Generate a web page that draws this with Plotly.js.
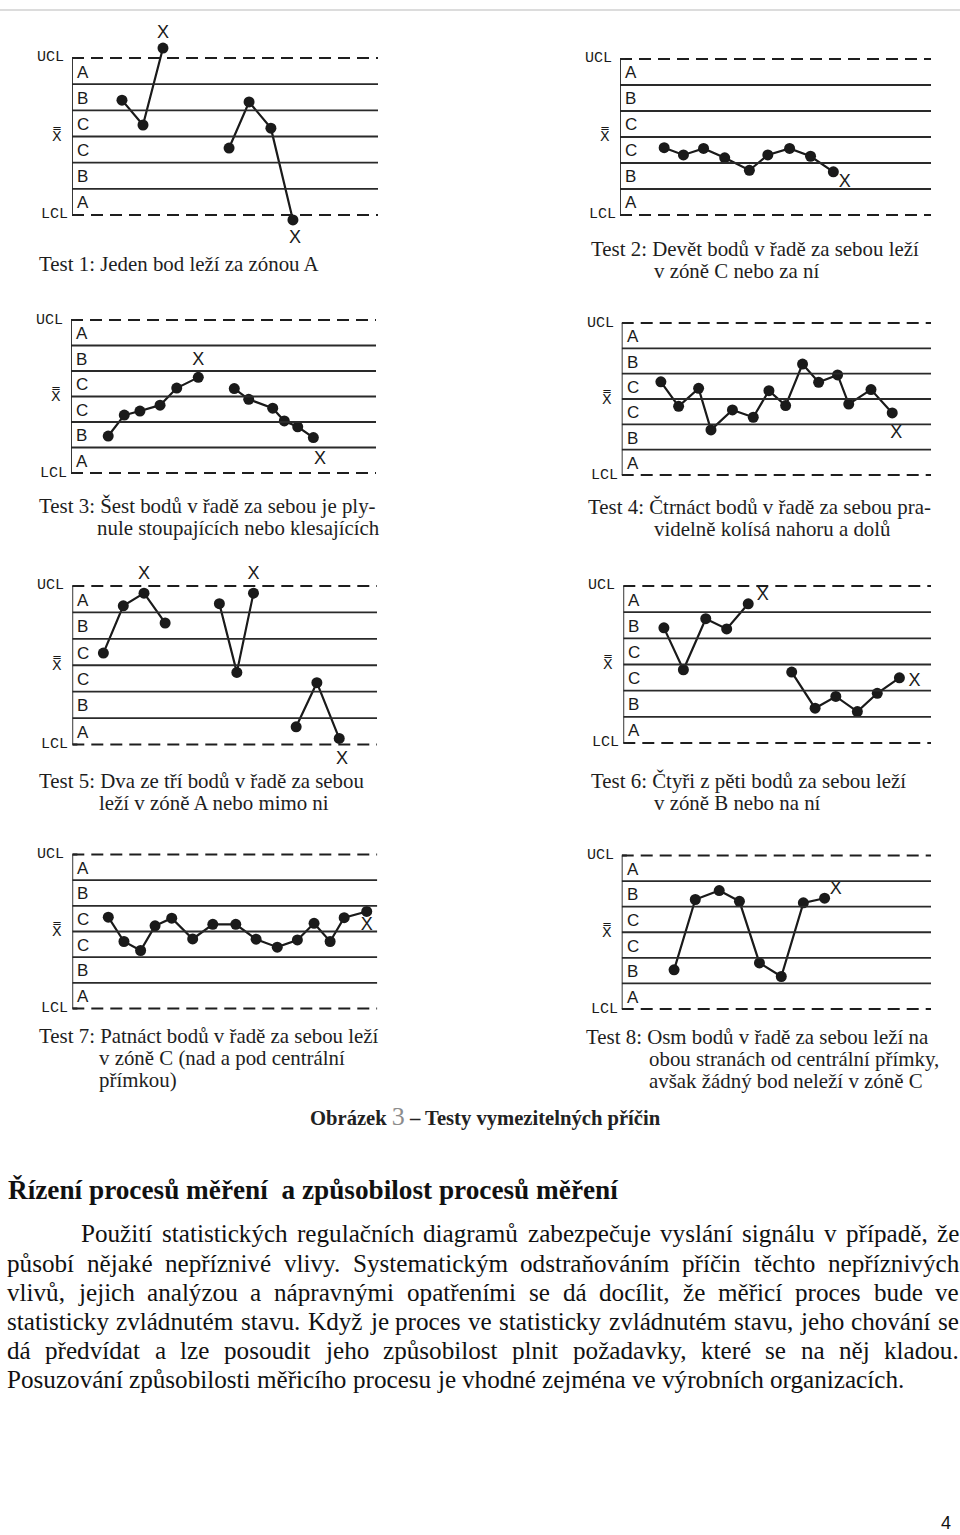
<!DOCTYPE html>
<html><head><meta charset="utf-8">
<script src="https://cdn.plot.ly/plotly-3.0.1.min.js"></script>
<style>html,body{margin:0;padding:0;background:#fff}#chart{width:960px;height:1535px}</style>
</head><body><div id="chart"></div>
<script>
// ---------- DATA ----------
const zoneLevels = [-3, -2, -1, 0, 1, 2, 3];
const zoneCenters = [2.5, 1.5, 0.5, -0.5, -1.5, -2.5];
const zoneLetters = ['A', 'B', 'C', 'C', 'B', 'A'];
const centerLabel = 'X\u033F';

const t1X = [2.45, 3.48, 4.46, null, 7.7, 8.68, 9.75, 10.83];
const t1Y = [1.39, 0.44, 3.38, null, -0.44, 1.32, 0.32, -3.19];
const t1FlagX = [4.46, 10.93];
const t1FlagY = [3.95, -3.88];

const t2X = [2.13, 3.06, 4.03, 5.05, 6.24, 7.13, 8.18, 9.19, 10.29];
const t2Y = [-0.41, -0.69, -0.44, -0.80, -1.28, -0.69, -0.44, -0.74, -1.34];
const t2FlagX = [10.84];
const t2FlagY = [-1.76];

const t3X = [1.83, 2.62, 3.39, 4.38, 5.2, 6.26, null, 8.03, 8.74, 9.92, 10.49, 11.15, 11.92];
const t3Y = [-1.55, -0.73, -0.57, -0.34, 0.33, 0.75, null, 0.31, -0.11, -0.46, -0.96, -1.19, -1.61];
const t3FlagX = [6.26, 12.25];
const t3FlagY = [1.43, -2.46];

const t4X = [1.9, 2.76, 3.73, 4.33, 5.37, 6.38, 7.14, 7.95, 8.77, 9.55, 10.47, 11.01, 12.09, 13.12];
const t4Y = [0.68, -0.29, 0.42, -1.22, -0.43, -0.72, 0.33, -0.26, 1.38, 0.66, 0.95, -0.20, 0.37, -0.55];
const t4FlagX = [13.31];
const t4FlagY = [-1.38];

const t5X = [1.53, 2.51, 3.53, 4.57, null, 7.24, 8.1, 8.92, null, 11.02, 12.04, 13.14];
const t5Y = [0.46, 2.25, 2.73, 1.6, null, 2.33, -0.27, 2.73, null, -2.33, -0.66, -2.77];
const t5FlagX = [3.53, 8.92, 13.28];
const t5FlagY = [3.43, 3.43, -3.57];

const t6X = [1.98, 2.93, 4.02, 5.04, 6.09, null, 8.21, 9.35, 10.36, 11.41, 12.38, 13.46];
const t6Y = [1.40, -0.20, 1.75, 1.36, 2.32, null, -0.29, -1.67, -1.22, -1.80, -1.10, -0.51];
const t6FlagX = [6.8, 14.2];
const t6FlagY = [2.64, -0.65];

const t7X = [1.77, 2.54, 3.36, 4.07, 4.89, 5.92, 6.91, 8.04, 9.04, 10.08, 11.07, 11.89, 12.68, 13.37, 14.48];
const t7Y = [0.56, -0.39, -0.74, 0.22, 0.52, -0.29, 0.28, 0.28, -0.30, -0.61, -0.33, 0.32, -0.39, 0.54, 0.78];
const t7FlagX = [14.48];
const t7FlagY = [0.23];

const t8X = [2.54, 3.57, 4.73, 5.71, 6.68, 7.74, 8.81, 9.84];
const t8Y = [-1.47, 1.28, 1.63, 1.21, -1.20, -1.73, 1.15, 1.33];
const t8FlagX = [10.38];
const t8FlagY = [1.66];

const captionLines = [
  ['Test 1: Jeden bod leží za zónou A'],
  ['Test 2: Devět bodů v řadě za sebou leží', 'v zóně C nebo za ní'],
  ['Test 3: Šest bodů v řadě za sebou je ply-', 'nule stoupajících nebo klesajících'],
  ['Test 4: Čtrnáct bodů v řadě za sebou pra-', 'videlně kolísá nahoru a dolů'],
  ['Test 5: Dva ze tří bodů v řadě za sebou', 'leží v zóně A nebo mimo ni'],
  ['Test 6: Čtyři z pěti bodů za sebou leží', 'v zóně B nebo na ní'],
  ['Test 7: Patnáct bodů v řadě za sebou leží', 'v zóně C (nad a pod centrální', 'přímkou)'],
  ['Test 8: Osm bodů v řadě za sebou leží na', 'obou stranách od centrální přímky,', 'avšak žádný bod neleží v zóně C']
];
const figureCaptionPre = 'Obrázek';
const figureNumber = '3';
const figureCaptionPost = '– Testy vymezitelných příčin';
const headingText = 'Řízení procesů měření  a způsobilost procesů měření';
const paragraphLines = [
  'Použití statistických regulačních diagramů zabezpečuje vyslání signálu v případě, že',
  'působí nějaké nepříznivé vlivy. Systematickým odstraňováním příčin těchto nepříznivých',
  'vlivů, jejich analýzou a nápravnými opatřeními se dá docílit, že měřicí proces bude ve',
  'statisticky zvládnutém stavu. Když je proces ve statisticky zvládnutém stavu, jeho chování se',
  'dá předvídat a lze posoudit jeho způsobilost plnit požadavky, které se na něj kladou.',
  'Posuzování způsobilosti měřicího procesu je vhodné zejména ve výrobních organizacích.'
];
const pageNumber = '4';

// ---------- LAYOUT GEOMETRY ----------
const W = 960, H = 1535;
const series = [
  [t1X, t1Y, t1FlagX, t1FlagY], [t2X, t2Y, t2FlagX, t2FlagY],
  [t3X, t3Y, t3FlagX, t3FlagY], [t4X, t4Y, t4FlagX, t4FlagY],
  [t5X, t5Y, t5FlagX, t5FlagY], [t6X, t6Y, t6FlagX, t6FlagY],
  [t7X, t7Y, t7FlagX, t7FlagY], [t8X, t8Y, t8FlagX, t8FlagY]
];
const boxes = [
  {L: 72, R: 378, U: 58, D: 215},
  {L: 620, R: 931, U: 59, D: 215},
  {L: 71, R: 376, U: 320, D: 473},
  {L: 621.7, R: 931, U: 323, D: 475},
  {L: 72.3, R: 377, U: 586, D: 744.5},
  {L: 623.3, R: 931, U: 586, D: 743},
  {L: 72.3, R: 377.3, U: 854.5, D: 1008.5},
  {L: 621.7, R: 931, U: 855.5, D: 1009}
];
const capPos = [
  {x: 37, x2: 97, y: 264}, {x: 589, x2: 652, y: 249},
  {x: 37, x2: 95, y: 506}, {x: 586, x2: 652, y: 507},
  {x: 37, x2: 97, y: 781}, {x: 589, x2: 652, y: 781},
  {x: 37, x2: 97, y: 1036}, {x: 584, x2: 647, y: 1037}
];
const YR = 4.4, XR = 15;
const ink = '#1a1a1a';
const serif = 'Liberation Serif, Times New Roman, serif';
const sans = 'Liberation Sans, Arial, sans-serif';
const mono = 'Liberation Mono, Courier New, monospace';

const ctx = document.createElement('canvas').getContext('2d');
function measure(t, size, bold) {
  ctx.font = (bold ? 'bold ' : '') + size + 'px "Liberation Serif"';
  return ctx.measureText(t).width;
}
const px = v => v / W, py = v => 1 - v / H;

const traces = [], shapes = [], annotations = [];
const layout = {
  width: W, height: H, margin: {l: 0, r: 0, t: 0, b: 0},
  paper_bgcolor: '#fff', plot_bgcolor: 'rgba(0,0,0,0)', showlegend: false
};

boxes.forEach((b, i) => {
  const id = i === 0 ? '' : String(i + 1);
  const pc = (b.U + b.D) / 2, s = (b.D - b.U) / 6;
  const top = pc - YR * s, bot = pc + YR * s;
  const ax = {visible: false, showgrid: false, zeroline: false, fixedrange: true};
  layout['xaxis' + id] = Object.assign({}, ax, {domain: [px(b.L), px(b.R)], range: [0, XR], anchor: 'y' + id});
  layout['yaxis' + id] = Object.assign({}, ax, {domain: [py(bot), py(top)], range: [-YR, YR], anchor: 'x' + id});
  const xr = 'x' + id, yr = 'y' + id;
  zoneLevels.forEach(l => {
    const dashed = Math.abs(l) === 3;
    shapes.push({type: 'line', xref: xr, yref: yr, x0: 0, x1: XR, y0: l, y1: l,
      line: {color: dashed ? '#1e1e1e' : '#2a2a2a', width: dashed ? 2 : 1.8, dash: dashed ? '12px,7px' : 'solid'}});
  });
  shapes.push({type: 'line', xref: xr, yref: yr, x0: 0, x1: 0, y0: -3, y1: 3, line: {color: '#222', width: 1.8}});
  shapes.push({type: 'line', xref: xr, yref: yr, x0: 0, x1: 0.25, y0: 3, y1: 3, line: {color: '#222', width: 1.8}});
  shapes.push({type: 'line', xref: xr, yref: yr, x0: 0, x1: 0.25, y0: -3, y1: -3, line: {color: '#222', width: 1.8}});

  const [sx, sy, fx, fy] = series[i];
  traces.push({x: sx, y: sy, xaxis: xr, yaxis: yr, type: 'scatter', mode: 'lines+markers',
    line: {color: ink, width: 2.2}, marker: {color: ink, size: 11}, cliponaxis: false, hoverinfo: 'skip'});
  traces.push({x: fx, y: fy, xaxis: xr, yaxis: yr, type: 'scatter', mode: 'text',
    text: fx.map(() => 'X'), textposition: 'middle center',
    textfont: {family: sans, size: 18, color: ink}, cliponaxis: false, hoverinfo: 'skip'});

  zoneCenters.forEach((c, k) => {
    annotations.push({xref: xr, yref: yr, x: 0, y: c, xanchor: 'left', yanchor: 'middle', xshift: 3, yshift: -1,
      text: zoneLetters[k], showarrow: false, font: {family: sans, size: 17, color: ink}});
  });
  annotations.push({xref: xr, yref: yr, x: 0, y: 3, xanchor: 'right', yanchor: 'middle', xshift: -6,
    text: 'UCL', showarrow: false, font: {family: mono, size: 15, color: ink}});
  annotations.push({xref: xr, yref: yr, x: 0, y: -3, xanchor: 'right', yanchor: 'middle', xshift: -2,
    text: 'LCL', showarrow: false, font: {family: mono, size: 15, color: ink}});
  annotations.push({xref: xr, yref: yr, x: 0, y: 0, xanchor: 'right', yanchor: 'middle', xshift: -8, yshift: 1,
    text: centerLabel, showarrow: false, font: {family: 'DejaVu Sans, sans-serif', size: 14, color: ink}});
});

// captions
const capSize = 19 * 281 / measure(captionLines[0][0], 19, false);
captionLines.forEach((lines, i) => {
  const p = capPos[i];
  lines.forEach((t, k) => {
    annotations.push({xref: 'paper', yref: 'paper', x: px(k === 0 ? p.x : p.x2), y: py(p.y + k * 22),
      xanchor: 'left', yanchor: 'middle', text: t, showarrow: false,
      font: {family: serif, size: capSize, color: '#1e1e1e'}});
  });
});

// figure caption
const figFull = figureCaptionPre + ' ' + figureNumber + ' ' + figureCaptionPost;
const figSize = 17 * 348 / measure(figFull, 17, true);
annotations.push({xref: 'paper', yref: 'paper', x: px(308), y: py(1116), xanchor: 'left', yanchor: 'middle',
  text: '<b>' + figureCaptionPre + ' </b><span style="color:#8c8c8c;font-size:' + Math.round(figSize * 1.25) + 'px">' + figureNumber + '</span><b> ' + figureCaptionPost + '</b>',
  showarrow: false, font: {family: serif, size: figSize, color: '#222'}});

// heading
const headSize = 21 * 610 / measure(headingText, 21, true);
annotations.push({xref: 'paper', yref: 'paper', x: px(6), y: py(1190), xanchor: 'left', yanchor: 'middle',
  text: '<b>' + headingText + '</b>', showarrow: false, font: {family: serif, size: headSize, color: '#111'}});

// paragraph, justified word by word
const lastLine = paragraphLines[paragraphLines.length - 1];
const parSize = 20 * 898 / measure(lastLine, 20, false);
const lineY = [1233, 1263, 1292, 1321, 1350, 1379];
paragraphLines.forEach((line, i) => {
  const x0 = i === 0 ? 80 : 6;
  const x1 = 958;
  const words = line.split(' ');
  const widths = words.map(w => measure(w, parSize, false));
  const total = widths.reduce((a, b) => a + b, 0);
  const justify = i < paragraphLines.length - 1;
  const gap = justify ? (x1 - x0 - total) / (words.length - 1) : measure(' ', parSize, false);
  let x = x0;
  words.forEach((w, k) => {
    annotations.push({xref: 'paper', yref: 'paper', x: px(x), y: py(lineY[i]), xanchor: 'left', yanchor: 'middle',
      xshift: -1, text: w, showarrow: false, font: {family: serif, size: parSize, color: '#111'}});
    x += widths[k] + gap;
  });
});

annotations.push({xref: 'paper', yref: 'paper', x: px(946), y: py(1523), xanchor: 'center', yanchor: 'middle',
  text: pageNumber, showarrow: false, font: {family: sans, size: 18, color: '#111'}});

shapes.push({type: 'line', xref: 'paper', yref: 'paper', x0: 0, x1: px(960), y0: py(10), y1: py(10),
  line: {color: '#dcdcdc', width: 2}});

layout.shapes = shapes;
layout.annotations = annotations;
Plotly.newPlot('chart', traces, layout, {staticPlot: true, displayModeBar: false});
</script>
</body></html>
